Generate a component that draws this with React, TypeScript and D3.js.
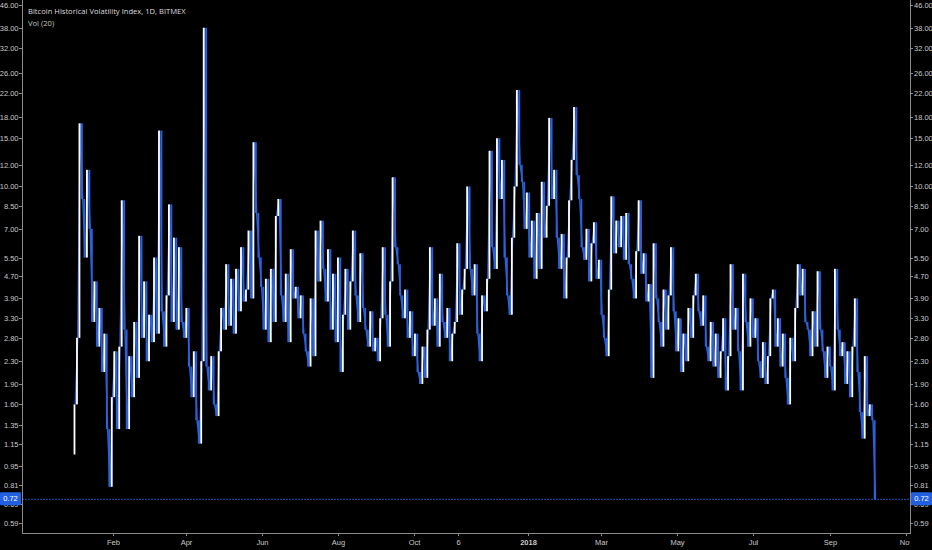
import * as d3 from 'd3';

// Daily vol index, one close every 2 days starting 2017-01-01
const closes = [
  1.6, 2.8, 17, 9, 5.5, 11.5, 7, 3.2, 4.5, 2.6,
  3.6, 2.1, 2.9, 1.3, 0.8, 1.7, 2.5, 1.3, 2.6, 8.9,
  3.0, 1.3, 2.4, 1.7, 3.2, 2.0, 6.6, 2.8, 4.5, 2.3,
  3.4, 2.7, 5.5, 2.9, 16, 3.5, 2.6, 4.0, 8.6, 3.2,
  6.5, 3.0, 6.0, 3.2, 2.8, 3.6, 2.2, 1.7, 2.5, 1.4,
  1.15, 2.3, 38, 2.2, 1.8, 2.4, 1.6, 1.45, 2.5, 3.6,
  3.0, 5.2, 3.1, 4.6, 2.9, 5.0, 3.5, 6.0, 3.8, 4.2,
  6.9, 3.9, 14.5, 8, 5.5, 4.3, 3.0, 4.6, 2.7, 5.0,
  3.2, 7.8, 9.0, 4.0, 3.2, 4.8, 2.7, 5.9, 3.9, 4.3,
  3.3, 4.0, 2.9, 2.5, 2.2, 3.9, 2.4, 6.9, 4.5, 7.5,
  5.0, 3.8, 5.9, 3.0, 4.8, 2.7, 5.5, 2.1, 3.4, 5.0,
  3.0, 4.5, 6.9, 4.0, 3.2, 5.7, 3.6, 3.0, 2.6, 3.5,
  2.5, 2.8, 2.3, 3.3, 6.0, 3.4, 2.6, 4.5, 10.8, 6.0,
  5.2, 4.0, 3.3, 4.2, 2.8, 3.5, 2.4, 2.9, 2.1, 1.9,
  2.6, 2.0, 3.0, 6.0, 3.1, 3.9, 2.6, 4.8, 3.2, 2.8,
  3.6, 2.3, 2.9, 3.2, 6.2, 3.4, 4.2, 5.0, 10.0, 5.0,
  4.0, 5.2, 2.9, 2.3, 4.0, 3.5, 4.6, 13.5, 6.0, 5.0,
  15, 9.0, 12.5, 5.5, 4.0, 3.4, 6.5, 10.0, 22.5, 12,
  10.4, 7.0, 9.5, 5.5, 7.5, 4.6, 8.0, 5.0, 10.4, 6.5,
  8.5, 17.8, 9.0, 11.5, 6.5, 5.0, 6.7, 3.9, 5.5, 8.9,
  12.5, 19.5, 11, 9, 6.0, 5.4, 7.0, 4.5, 6.2, 7.4,
  4.6, 5.4, 3.4, 2.8, 2.4, 4.2, 9.2, 5.7, 7.5, 6.0,
  7.8, 5.4, 8.0, 5.2, 4.6, 3.9, 5.8, 8.9, 4.8, 5.7,
  3.8, 4.4, 2.0, 6.2, 3.9, 3.2, 2.6, 4.2, 3.0, 4.0,
  6.0, 3.5, 2.5, 3.3, 2.1, 2.9, 2.3, 3.6, 2.8, 4.0,
  4.8, 3.5, 3.1, 4.0, 2.6, 2.3, 3.2, 2.2, 2.9, 2.0,
  2.5, 3.3, 1.8, 2.4, 5.2, 3.0, 3.6, 2.5, 1.8, 4.8,
  3.2, 2.6, 3.9, 2.8, 3.3, 2.3, 2.0, 2.7, 1.9, 2.4,
  3.9, 4.2, 2.6, 3.3, 2.2, 2.9, 2.0, 1.6, 2.8, 2.3,
  3.6, 5.2, 4.0, 5.0, 3.2, 3.0, 2.4, 3.5, 2.6, 4.9,
  3.0, 2.5, 2.0, 2.6, 2.2, 1.8, 5.0, 3.0, 2.4, 2.7,
  1.9, 2.5, 1.7, 2.6, 3.9, 2.1, 1.5, 1.2, 2.4, 1.45,
  1.6, 1.4, 0.72,
];
const firstOpen = 1.05;
const lastValue = 0.72;

const yTicks = [46, 38, 32, 26, 22, 18, 15, 12, 10, 8.5, 7, 5.5, 4.7, 3.9, 3.3, 2.8, 2.3, 1.9, 1.6, 1.35, 1.15, 0.95, 0.81, 0.69, 0.59];
const xTickDates = ['2017-02-01', '2017-04-01', '2017-06-01', '2017-08-01', '2017-10-01', '2017-11-06', '2018-01-01', '2018-03-01', '2018-05-01', '2018-07-01', '2018-09-01', '2018-11-01'];
const xTickLabels = ['Feb', 'Apr', 'Jun', 'Aug', 'Oct', '6', '2018', 'Mar', 'May', 'Jul', 'Sep', 'Nov'];

const DAY = 86400000;
const START = Date.UTC(2017, 0, 1);

export default function App() {
  const width = 932;
  const height = 550;
  const plotLeft = 22;
  const plotRight = 910;
  const plotBottom = 533;

  const x = d3.scaleUtc()
    .domain([new Date(Date.UTC(2017, 1, 1)), new Date(Date.UTC(2018, 0, 1))])
    .range([113, 528]);
  const y = d3.scaleLog().domain([0.59, 46]).range([523, 5]);

  const dates = closes.map((_, i) => new Date(START + i * 2 * DAY));
  const candles = closes.map((c, i) => ({
    date: dates[i],
    open: i === 0 ? firstOpen : closes[i - 1],
    close: c,
  }));

  const line = d3.line<number>()
    .x((_d, i) => x(dates[i]) + 0.8)
    .y(d => y(d));

  const blue = '#2b62dc';
  const axisColor = '#8a8a8a';
  const textColor = '#c8c8c8';
  const tickFont = '"Liberation Sans", Arial, sans-serif';
  const tickSize = 7.5;
  const bodyW = 1.8;

  return (
    <svg width={width} height={height} style={{ position: 'absolute', left: 0, top: 0, background: '#000' }}>
      <defs>
        <clipPath id="plot">
          <rect x={plotLeft} y={0} width={plotRight - plotLeft} height={plotBottom} />
        </clipPath>
        <clipPath id="xlab">
          <rect x={0} y={plotBottom} width={910} height={height - plotBottom} />
        </clipPath>
      </defs>
      <rect width={width} height={height} fill="#000" />

      <g clipPath="url(#plot)">
        {/* last value line */}
        <line x1={plotLeft} x2={plotRight} y1={y(lastValue)} y2={y(lastValue)}
          stroke="#1f4fb5" strokeWidth={1} strokeDasharray="2 1" />
        <path d={line(closes) || ''} fill="none" stroke={blue} strokeWidth={1.4} />
        {candles.map((d, i) => {
          const up = d.close >= d.open;
          const top = y(Math.max(d.open, d.close));
          const bot = y(Math.min(d.open, d.close));
          return (
            <rect key={i} x={x(d.date) - bodyW / 2} y={top} width={bodyW}
              height={Math.max(1, bot - top)} fill={up ? '#ffffff' : blue} />
          );
        })}
      </g>

      {/* left axis */}
      <line x1={plotLeft + 0.5} x2={plotLeft + 0.5} y1={0} y2={plotBottom} stroke={axisColor} />
      {/* right axis */}
      <line x1={plotRight + 0.5} x2={plotRight + 0.5} y1={0} y2={plotBottom} stroke={axisColor} />
      {/* bottom axis */}
      <line x1={plotLeft} x2={plotRight + 1} y1={plotBottom + 0.5} y2={plotBottom + 0.5} stroke={axisColor} />

      {yTicks.map(t => (
        <g key={t} transform={`translate(0,${Math.round(y(t)) + 0.5})`}>
          <line x1={plotLeft - 3} x2={plotLeft} stroke={axisColor} />
          <line x1={plotRight} x2={plotRight + 3} stroke={axisColor} />
          <text x={plotLeft - 3.5} dy="0.35em" textAnchor="end" fill={textColor}
            fontSize={tickSize} fontFamily={tickFont}>{t.toFixed(2)}</text>
          <text x={plotRight + 4} dy="0.35em" textAnchor="start" fill={textColor}
            fontSize={tickSize} fontFamily={tickFont}>{t.toFixed(2)}</text>
        </g>
      ))}

      <g clipPath="url(#xlab)">
        {xTickDates.map((d, i) => {
          const px = Math.round(x(new Date(d + 'T00:00:00Z'))) + 0.5;
          return (
            <g key={d} transform={`translate(${px},0)`}>
              <line y1={plotBottom} y2={plotBottom + 3} stroke={axisColor} />
              <text y={plotBottom + 12} textAnchor="middle" fill={textColor}
                fontSize={tickSize} fontFamily={tickFont}
                fontWeight={xTickLabels[i] === '2018' ? 'bold' : 'normal'}>{xTickLabels[i]}</text>
            </g>
          );
        })}
      </g>

      {/* last value badges */}
      {[0, plotRight + 1].map(bx => (
        <g key={bx}>
          <rect x={bx} y={y(lastValue) - 7} width={21} height={13} fill="#2160e0" rx={1} />
          <text x={bx + 10.5} y={y(lastValue) - 0.5} dy="0.35em" textAnchor="middle" fill="#fff"
            fontSize={tickSize} fontFamily={tickFont}>{lastValue.toFixed(2)}</text>
        </g>
      ))}

      <text x={28} y={14} fill="#dcdcdc" fontSize={7.6} fontFamily='"Open Sans", sans-serif'>
        Bitcoin Historical Volatility Index, 1D, BITMEX
      </text>
      <text x={28} y={26} fill="#c4c4c4" fontSize={7.6} fontFamily='"Open Sans", sans-serif'>
        Vol (20)
      </text>
    </svg>
  );
}
